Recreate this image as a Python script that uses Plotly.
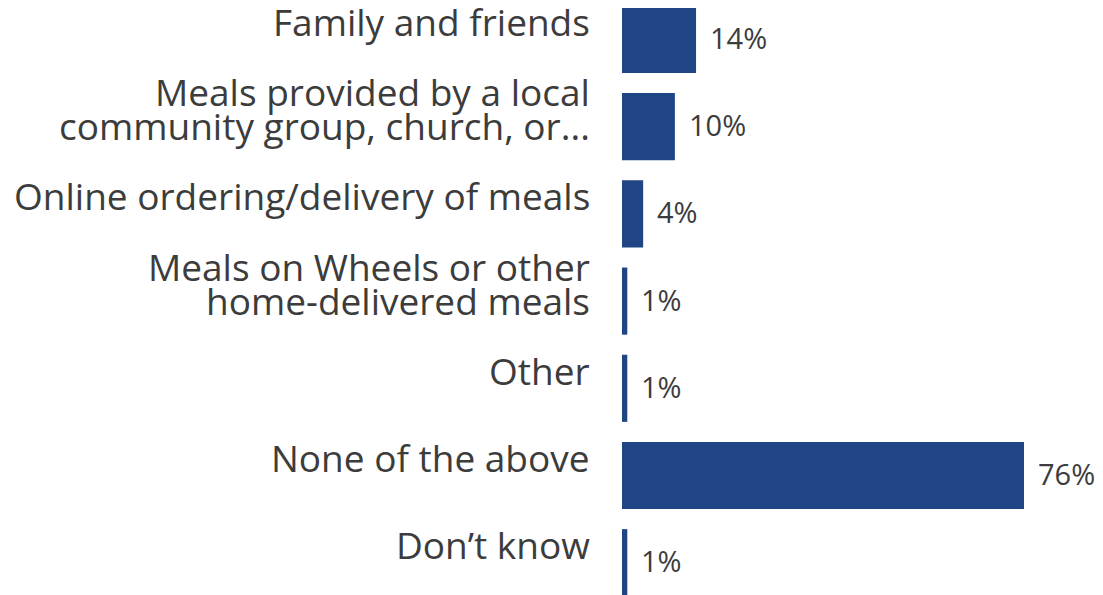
import plotly.graph_objects as go

categories = [
    "Family and friends",
    "Meals provided by a local<br>community group, church, or...",
    "Online ordering/delivery of meals",
    "Meals on Wheels or other<br>home-delivered meals",
    "Other",
    "None of the above",
    "Don\u2019t know",
]
values = [14, 10, 4, 1, 1, 76, 1]
value_labels = ["14%", "10%", "4%", "1%", "1%", "76%", "1%"]

BAR_COLOR = "#1F4584"
TEXT_COLOR = "#3C3C3C"
LINE_STEP = 34  # tight line spacing for wrapped labels

fig = go.Figure(
    go.Bar(
        x=values,
        y=categories,
        orientation="h",
        marker=dict(color=BAR_COLOR, line=dict(width=0)),
        hoverinfo="skip",
    )
)

# category labels: each line placed on its own so the wrap stays tight
for cat in categories:
    lines = cat.split("<br>")
    n = len(lines)
    for i, line in enumerate(lines):
        fig.add_annotation(
            x=0, xref="paper", xanchor="right", xshift=-30,
            y=cat, yref="y", yanchor="middle",
            yshift=18 - (i - (n - 1) / 2) * LINE_STEP,
            text=line, showarrow=False,
            font=dict(family="Open Sans", size=37, color=TEXT_COLOR),
        )

# value labels to the right of each bar
for cat, v, lab in zip(categories, values, value_labels):
    fig.add_annotation(
        x=v, xref="x", xanchor="left", xshift=12,
        y=cat, yref="y", yanchor="middle", yshift=2,
        text=lab, showarrow=False,
        font=dict(family="Open Sans", size=29, color=TEXT_COLOR),
    )

fig.update_layout(
    width=1103,
    height=595,
    margin=dict(l=614, r=0, t=0, b=0),
    paper_bgcolor="white",
    plot_bgcolor="white",
    bargap=0.23,
    showlegend=False,
    xaxis=dict(range=[0, 92.45], visible=False),
    yaxis=dict(
        categoryorder="array",
        categoryarray=categories,
        range=[6.462, -0.361],
        showticklabels=False,
        showgrid=False,
        zeroline=False,
    ),
)

fig.write_html("out.html")
